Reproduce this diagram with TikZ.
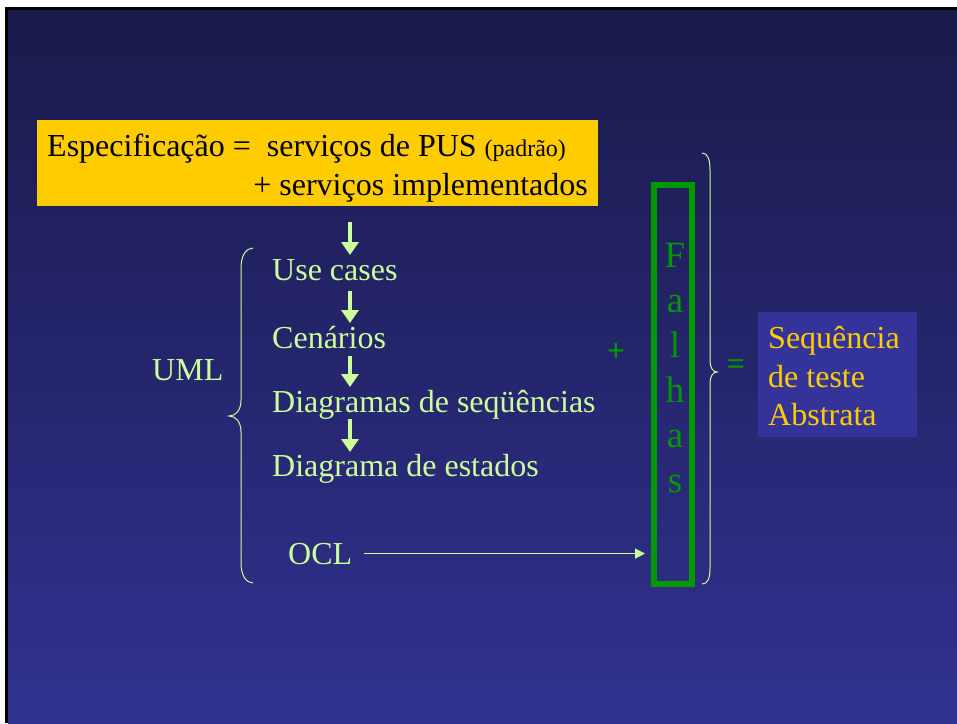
\documentclass[tikz,border=0pt]{standalone}
\usepackage{fontspec}
\setmainfont{Liberation Serif}
\usetikzlibrary{arrows.meta}
\definecolor{bgtop}{RGB}{26,26,74}
\definecolor{bgbot}{RGB}{49,49,145}
\definecolor{lgreen}{RGB}{204,255,153}
\definecolor{dgreen}{RGB}{0,153,0}
\definecolor{gold}{RGB}{255,204,0}
\definecolor{seqfill}{RGB}{51,51,153}
\begin{document}
\begin{tikzpicture}[x=1pt,y=-1pt,
  txt/.style={inner sep=0pt, anchor=base west, text=lgreen, font=\fontsize{32}{38}\selectfont},
  spectxt/.style={inner sep=0pt, anchor=base west, text=black, font=\fontsize{32}{38}\selectfont},
  seqtxt/.style={inner sep=0pt, anchor=base west, text=gold, font=\fontsize{32}{38}\selectfont},
  fletter/.style={inner sep=0pt, anchor=base, text=dgreen, font=\fontsize{37}{44}\selectfont},
  optxt/.style={inner sep=0pt, text=dgreen, font=\fontsize{32}{38}\selectfont\bfseries},
  dnarrow/.style={draw=lgreen, line width=4pt, -{Triangle[width=17pt,length=13pt]}},
  oclarrow/.style={draw=lgreen, line width=1.5pt, -{Triangle[width=10pt,length=10pt]}},
  bracepath/.style={draw=lgreen, line width=1pt}]
\useasboundingbox (0,0) rectangle (957,723);
\fill[white] (0,0) rectangle (957,723);
\fill[black] (5,7) rectangle (957,723);
\shade[top color=bgtop, bottom color=bgbot] (8,10) rectangle (957,723);

% specification box
\node[fill=gold, minimum width=561pt, minimum height=86pt, inner sep=0pt] (spec) at (317.5,163) {};
\node[spectxt] (spec1) at (47,156) {Especificação = \ serviços de PUS {\fontsize{24}{28}\selectfont(padrão)}};
\node[spectxt, anchor=base east] (spec2) at (588,195) {+ serviços implementados};

% UML chain
\node[txt] (uc) at (272,280) {Use cases};
\node[txt] (cen) at (272,348) {Cenários};
\node[txt] (dseq) at (272,412) {Diagramas de seqüências};
\node[txt] (dest) at (272,476) {Diagrama de estados};
\node[txt] (ocl) at (288,564) {OCL};
\node[txt] (uml) at (152,380) {UML};

\coordinate (a1s) at (350,222); \coordinate (a1e) at (350,255);
\coordinate (a2s) at (350,291); \coordinate (a2e) at (350,323);
\coordinate (a3s) at (350,356); \coordinate (a3e) at (350,387);
\coordinate (a4s) at (350,419); \coordinate (a4e) at (350,452);
\draw[dnarrow] (a1s) -- (a1e);
\draw[dnarrow] (a2s) -- (a2e);
\draw[dnarrow] (a3s) -- (a3e);
\draw[dnarrow] (a4s) -- (a4e);

% left brace
\draw[bracepath] (253,248) .. controls (246,248) and (241,256) .. (241,268) -- (241,400)
  .. controls (241,410) and (236,416) .. (229,416)
  .. controls (236,416) and (241,422) .. (241,432) -- (241,563)
  .. controls (241,575) and (246,583) .. (253,583);

% Falhas box
\node[draw=dgreen, line width=6pt, minimum width=38pt, minimum height=399pt, inner sep=0pt] (falhas) at (673,384.5) {};
\node[fletter] (f1) at (675,267) {F};
\node[fletter] (f2) at (675,312) {a};
\node[fletter] (f3) at (675,357) {l};
\node[fletter] (f4) at (675,402) {h};
\node[fletter] (f5) at (675,447) {a};
\node[fletter] (f6) at (675,492) {s};

\draw[oclarrow, shorten <=12pt, shorten >=6pt] (ocl.east) -- (falhas.west |- ocl.east);

\node[optxt] (plus) at (616,352) {+};
\node[optxt] (eq) at (736,367) {=};

% right brace
\draw[bracepath] (702,153) .. controls (708,153) and (710,160) .. (710,170) -- (710,360)
  .. controls (710,368) and (713,372) .. (717,372)
  .. controls (713,372) and (710,376) .. (710,384) -- (710,568)
  .. controls (710,578) and (708,584) .. (702,584);

% result box
\node[fill=seqfill, minimum width=159pt, minimum height=125pt, inner sep=0pt] (seqbox) at (837.5,374.5) {};
\node[seqtxt] (s1) at (768,348) {Sequência};
\node[seqtxt] (s2) at (768,387) {de teste};
\node[seqtxt] (s3) at (768,425) {Abstrata};
\end{tikzpicture}
\end{document}
